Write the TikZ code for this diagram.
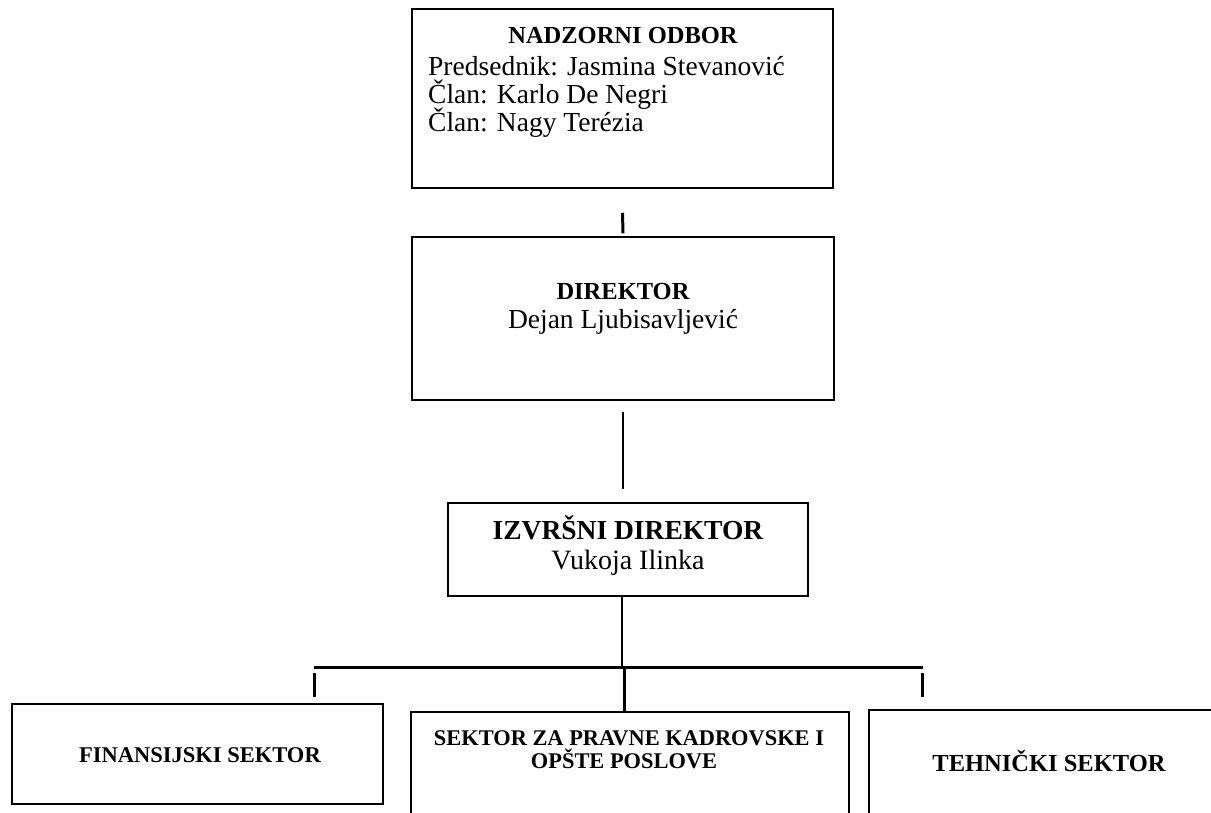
\documentclass[tikz,border=0pt]{standalone}
\usepackage{fontspec}
\setmainfont{Liberation Serif}
\begin{document}
\begin{tikzpicture}[x=1pt,y=-1pt,
  box/.style={draw=black,line width=1.5pt,rectangle,inner sep=0pt},
  lbl/.style={inner sep=0pt,anchor=base},
  thickline/.style={line width=3pt},
  thinline/.style={line width=1.4pt}]
\useasboundingbox (0,0) rectangle (1211,812);
\clip (0,0) rectangle (1211,812);
% boxes
\node[box,minimum width=421pt,minimum height=179pt] (nad) at (622.5,98.5) {};
\node[box,minimum width=422pt,minimum height=163pt] (dir) at (623,318.5) {};
\node[box,minimum width=360pt,minimum height=93pt] (izv) at (628,549.5) {};
\node[box,minimum width=371pt,minimum height=100pt] (fin) at (197.5,754) {};
\node[box,minimum width=438pt,minimum height=120pt] (prav) at (630,772) {};
\node[box,minimum width=360pt,minimum height=120pt] (teh) at (1049,770) {};
% texts
\node[lbl] (t1) at (623,43) {\fontsize{24.5}{28}\selectfont\bfseries NADZORNI ODBOR};
\node[lbl,anchor=base west] (t2) at (428,75) {\fontsize{27.5}{30}\selectfont Predsednik: Jasmina Stevanović};
\node[lbl,anchor=base west] (t3) at (428,103) {\fontsize{27.5}{30}\selectfont Član: Karlo De Negri};
\node[lbl,anchor=base west] (t4) at (428,131) {\fontsize{27.5}{30}\selectfont Član: Nagy Terézia};
\node[lbl] (t5) at (623,299) {\fontsize{24.5}{28}\selectfont\bfseries DIREKTOR};
\node[lbl] (t6) at (623,328) {\fontsize{27.5}{30}\selectfont Dejan Ljubisavljević};
\node[lbl] (t7) at (628,539) {\fontsize{27.5}{31}\selectfont\bfseries IZVRŠNI DIREKTOR};
\node[lbl] (t8) at (628,569) {\fontsize{28}{31}\selectfont Vukoja Ilinka};
\node[lbl] (t9) at (200,762) {\fontsize{22.5}{26}\selectfont\bfseries FINANSIJSKI SEKTOR};
\node[lbl] (t10) at (629,745) {\fontsize{22.4}{26}\selectfont\bfseries SEKTOR ZA PRAVNE KADROVSKE I};
\node[lbl] (t11) at (624,768) {\fontsize{22.4}{26}\selectfont\bfseries OPŠTE POSLOVE};
\node[lbl] (t12) at (1049,771) {\fontsize{24.5}{28}\selectfont\bfseries TEHNIČKI SEKTOR};
% connector points
\coordinate (barL) at (314,667);
\coordinate (barR) at (923,667);
\coordinate (barM) at (622,667);
% connectors
\draw[thickline] ([yshift=-24pt]nad.south) -- ([yshift=3pt]dir.north);
\draw[thinline] ([yshift=-11pt]dir.south) -- ([yshift=13pt]izv.north -| dir.south);
\draw[thinline] (izv.south -| barM) -- (barM);
\draw[thickline] (barL) -- (barR);
\draw[thickline] (barM -| 624,0) -- (prav.north -| 624,0);
\draw[thickline] (314,673) -- (314,697);
\draw[thickline] (922,673) -- (922,697);
\end{tikzpicture}
\end{document}
